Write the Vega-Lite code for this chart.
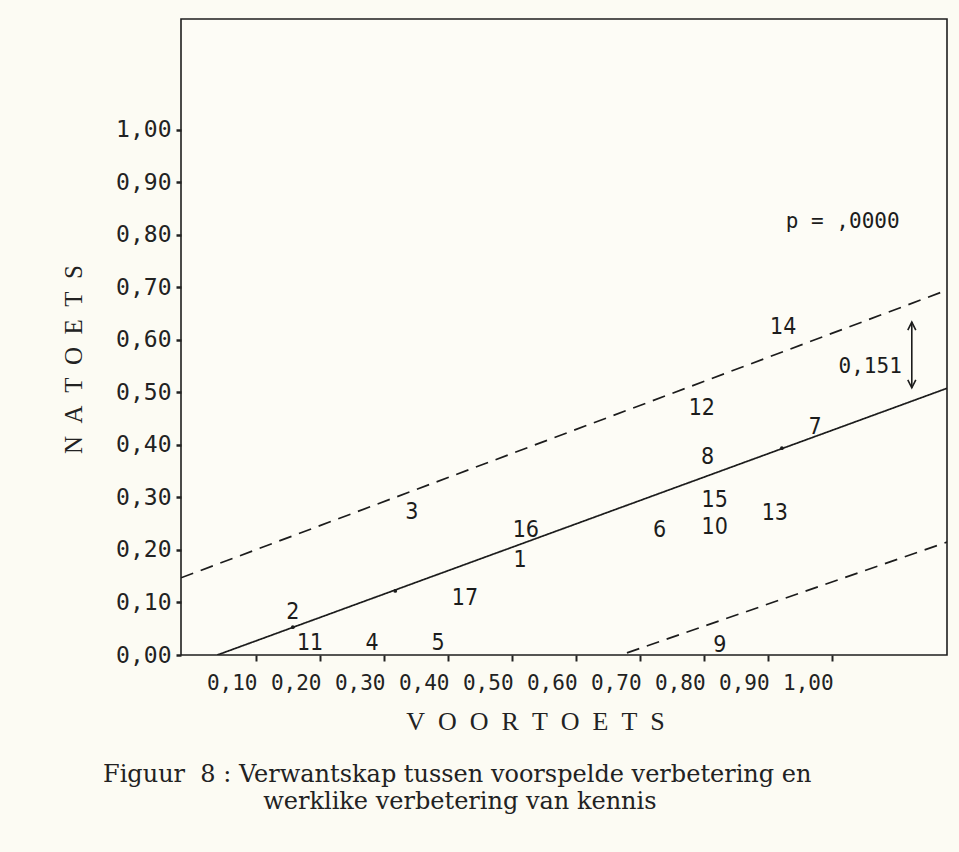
{
  "$schema": "https://vega.github.io/schema/vega-lite/v6.json",
  "width": 766,
  "height": 636,
  "autosize": {"type": "none"},
  "padding": {"left": 181, "top": 19, "right": 12, "bottom": 197},
  "background": "#fcfbf3",
  "config": {
    "view": {"stroke": "#1e1e1e", "strokeWidth": 1.6, "fill": "#fdfcf6"},
    "axis": {"grid": false, "domain": false}
  },
  "title": {
    "text": [
      "Figuur\u00a0\u00a08\u00a0:\u00a0Verwantskap tussen voorspelde verbetering en",
      "\u200b\u00a0\u00a0\u00a0\u00a0\u00a0\u00a0\u00a0\u00a0\u00a0\u00a0\u00a0\u00a0\u00a0\u00a0\u00a0\u00a0\u00a0\u00a0\u00a0\u00a0\u00a0werklike verbetering van kennis"
    ],
    "orient": "bottom",
    "anchor": "start",
    "frame": "group",
    "dx": -78,
    "offset": 29,
    "font": "DejaVu Serif",
    "fontSize": 24,
    "fontWeight": "normal",
    "color": "#222222",
    "lineHeight": 27
  },
  "datasets": {
    "lines": [
      {"line": "fit", "style": "solid", "x": 0.04, "y": 0.0},
      {"line": "fit", "style": "solid", "x": 1.18, "y": 0.508},
      {"line": "upper", "style": "dashed", "x": -0.0167, "y": 0.147},
      {"line": "upper", "style": "dashed", "x": 1.18, "y": 0.695},
      {"line": "lower", "style": "dashed", "x": 0.68, "y": 0.004},
      {"line": "lower", "style": "dashed", "x": 1.18, "y": 0.215}
    ],
    "labels": [
      {"label": "1", "x": 0.513, "y": 0.181},
      {"label": "2", "x": 0.158, "y": 0.082},
      {"label": "3", "x": 0.344, "y": 0.272},
      {"label": "4", "x": 0.282, "y": 0.023},
      {"label": "5", "x": 0.385, "y": 0.023},
      {"label": "6", "x": 0.731, "y": 0.238},
      {"label": "7", "x": 0.974, "y": 0.434},
      {"label": "8", "x": 0.806, "y": 0.377},
      {"label": "9", "x": 0.825, "y": 0.019},
      {"label": "10", "x": 0.817, "y": 0.244},
      {"label": "11", "x": 0.185, "y": 0.023},
      {"label": "12", "x": 0.797, "y": 0.47},
      {"label": "13", "x": 0.911, "y": 0.27},
      {"label": "14", "x": 0.924, "y": 0.625},
      {"label": "15", "x": 0.817, "y": 0.295},
      {"label": "16", "x": 0.522, "y": 0.238},
      {"label": "17", "x": 0.427, "y": 0.109}
    ],
    "dots": [
      {"x": 0.158, "y": 0.053},
      {"x": 0.318, "y": 0.122},
      {"x": 0.922, "y": 0.394}
    ],
    "notes": [
      {"text": "p = ,0000", "x": 1.017, "y": 0.825},
      {"text": "0,151", "x": 1.06, "y": 0.549}
    ],
    "arrow": [
      {"x": 1.125, "y": 0.509, "y2": 0.634}
    ],
    "heads": [
      {"x": 1.125, "y": 0.634, "dir": "up"},
      {"x": 1.125, "y": 0.509, "dir": "down"}
    ]
  },
  "layer": [
    {
      "data": {"name": "lines"},
      "mark": {"type": "line", "color": "#1c1c1c", "strokeWidth": 1.7, "clip": true},
      "encoding": {
        "x": {
          "field": "x", "type": "quantitative",
          "scale": {"domain": [-0.0167, 1.18], "nice": false, "zero": false},
          "axis": {
            "values": [0.1, 0.2, 0.3, 0.4, 0.5, 0.6, 0.7, 0.8, 0.9, 1.0],
            "labelExpr": "replace(format(datum.value, '.2f'), '.', ',')",
            "labelFont": "DejaVu Sans Mono",
            "labelFontSize": 21,
            "labelColor": "#222222",
            "labelOffset": -24,
            "labelPadding": 11,
            "labelFlush": false,
            "labelOverlap": false,
            "tickSize": 6,
            "tickWidth": 2,
            "tickColor": "#222222",
            "title": "V\u00a0\u00a0O\u00a0\u00a0O\u00a0\u00a0R\u00a0\u00a0T\u00a0\u00a0O\u00a0\u00a0E\u00a0\u00a0T\u00a0\u00a0S",
            "titleFont": "Liberation Serif",
            "titleFontSize": 26,
            "titleFontWeight": "normal",
            "titleColor": "#222222",
            "titleX": 354,
            "titleY": 66,
            "titleAlign": "center",
            "titleBaseline": "middle"
          }
        },
        "y": {
          "field": "y", "type": "quantitative",
          "scale": {"domain": [0, 1.2114], "nice": false, "zero": false},
          "axis": {
            "values": [0, 0.1, 0.2, 0.3, 0.4, 0.5, 0.6, 0.7, 0.8, 0.9, 1.0],
            "labelExpr": "replace(format(datum.value, '.2f'), '.', ',')",
            "labelFont": "DejaVu Sans Mono",
            "labelFontSize": 23,
            "labelColor": "#222222",
            "labelPadding": 5,
            "labelOverlap": false,
            "tickSize": 5,
            "tickWidth": 2.5,
            "tickColor": "#222222",
            "title": "N\u00a0\u00a0A\u00a0\u00a0T\u00a0\u00a0O\u00a0\u00a0E\u00a0\u00a0T\u00a0\u00a0S",
            "titleFont": "Liberation Serif",
            "titleFontSize": 25,
            "titleFontWeight": "normal",
            "titleColor": "#222222",
            "titleAngle": -90,
            "titleX": -108,
            "titleY": 340,
            "titleAlign": "center",
            "titleBaseline": "middle"
          }
        },
        "detail": {"field": "line"},
        "strokeDash": {
          "field": "style", "type": "nominal",
          "scale": {"domain": ["solid", "dashed"], "range": [[1, 0], [13, 8]]},
          "legend": null
        }
      }
    },
    {
      "data": {"name": "dots"},
      "mark": {"type": "point", "filled": true, "shape": "circle", "size": 14, "color": "#1c1c1c", "opacity": 1},
      "encoding": {
        "x": {"field": "x", "type": "quantitative"},
        "y": {"field": "y", "type": "quantitative"}
      }
    },
    {
      "data": {"name": "labels"},
      "mark": {"type": "text", "font": "'DejaVu Sans Condensed', 'Liberation Sans', sans-serif", "fontSize": 23, "color": "#1c1c1c", "align": "center", "baseline": "middle"},
      "encoding": {
        "x": {"field": "x", "type": "quantitative"},
        "y": {"field": "y", "type": "quantitative"},
        "text": {"field": "label"}
      }
    },
    {
      "data": {"name": "notes"},
      "mark": {"type": "text", "font": "DejaVu Sans Mono", "fontSize": 21, "color": "#1c1c1c", "align": "center", "baseline": "middle"},
      "encoding": {
        "x": {"field": "x", "type": "quantitative"},
        "y": {"field": "y", "type": "quantitative"},
        "text": {"field": "text"}
      }
    },
    {
      "data": {"name": "arrow"},
      "mark": {"type": "rule", "color": "#1c1c1c", "strokeWidth": 1.6},
      "encoding": {
        "x": {"field": "x", "type": "quantitative"},
        "y": {"field": "y", "type": "quantitative"},
        "y2": {"field": "y2"}
      }
    },
    {
      "data": {"name": "heads"},
      "mark": {"type": "point", "filled": false, "size": 256, "strokeWidth": 1.6, "color": "#1c1c1c", "opacity": 1},
      "encoding": {
        "x": {"field": "x", "type": "quantitative"},
        "y": {"field": "y", "type": "quantitative"},
        "shape": {
          "field": "dir", "type": "nominal",
          "scale": {"domain": ["up", "down"], "range": ["M -0.5 1 L 0 0 L 0.5 1", "M -0.5 -1 L 0 0 L 0.5 -1"]},
          "legend": null
        }
      }
    }
  ]
}
